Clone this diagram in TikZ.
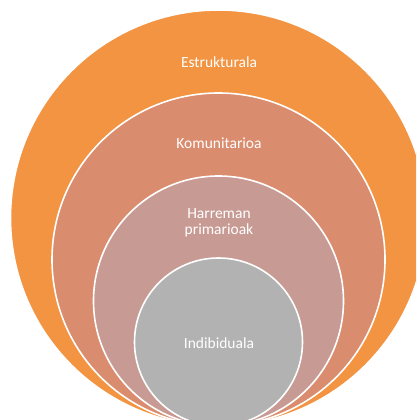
\documentclass[tikz,border=0pt]{standalone}
\usepackage{fontspec}
\setmainfont{Carlito}
\definecolor{cOne}{HTML}{F29441}
\definecolor{cTwo}{HTML}{DA8C6E}
\definecolor{cThree}{HTML}{C89A94}
\definecolor{cFour}{HTML}{B2B2B2}
\tikzset{
  ring/.style={circle, draw=white, line width=1.6pt, inner sep=0pt},
  lbl/.style={text=white, font=\fontsize{15.5}{16}\selectfont, align=center}
}
\begin{document}
\begin{tikzpicture}[x=1pt,y=-1pt]
\useasboundingbox (0,0) rectangle (416,420);
\clip (0,0) rectangle (416,420);
\node[ring, fill=cOne, minimum size=416pt] (c1) at (218.5,218) {};
\node[ring, fill=cTwo, minimum size=333pt] (c2) at (218.5,259.5) {};
\node[ring, fill=cThree, minimum size=250pt] (c3) at (218.5,301) {};
\node[ring, fill=cFour, minimum size=168pt] (c4) at (218.5,342) {};
\node[lbl] (t1) at (219,62) {Estrukturala};
\node[lbl] (t2) at (219,143) {Komunitarioa};
\node[lbl] (t3) at (219,223) {Harreman\\primarioak};
\node[lbl] (t4) at (219,343) {Indibiduala};
\end{tikzpicture}
\end{document}
